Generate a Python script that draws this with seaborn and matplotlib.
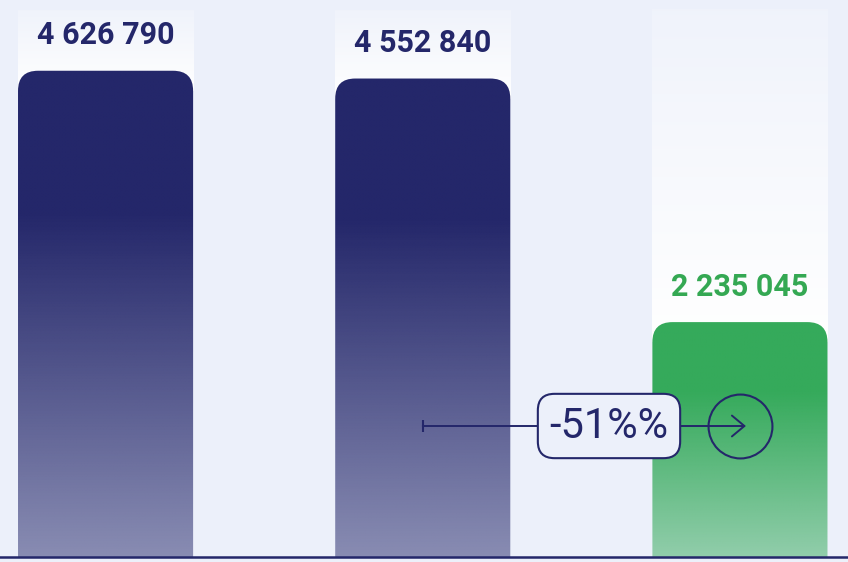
import numpy as np
import matplotlib.pyplot as plt
import seaborn as sns
from matplotlib.patches import FancyBboxPatch
from matplotlib.colors import to_rgb

# data
categories = ['bar 1', 'bar 2', 'bar 3']
values = [4626790, 4552840, 2235045]
value_labels = ['4 626 790', '4 552 840', '2 235 045']
change_label = '-51%%'

BG = '#ECF0FA'
NAVY = '#24276A'
GREEN = '#35AA5B'
bar_colors = [NAVY, NAVY, GREEN]
label_colors = [NAVY, NAVY, '#34A853']

W, H = 848, 562
BAR_W = 0.552
XLIM = (-105.5 / 317, 2 + 108 / 317)
YTOP = 5.3e6

sns.set_style('white')
plt.rcParams['font.family'] = ['Roboto', 'DejaVu Sans']

fig = plt.figure(figsize=(W / 100, H / 100), dpi=100, facecolor=BG)
ax = fig.add_axes([0, 5 / H, 1, 557 / H])
ax.set_facecolor(BG)

sns.barplot(x=categories, y=values, width=BAR_W, ax=ax)
ax.set_xlim(*XLIM)
ax.set_ylim(0, YTOP)

# pixel sizes in data units
px_x = (XLIM[1] - XLIM[0]) / W
px_y = YTOP / 557
rx, ry = 20 * px_x, 20 * px_y
col_top = YTOP * (557 - 10) / 557

for i, patch in enumerate(ax.patches):
    x0, w, h = patch.get_x(), patch.get_width(), patch.get_height()
    patch.set_visible(False)

    # pale column behind each bar
    col = np.ones((256, 1, 4))
    col[..., 3] = np.linspace(1, 0.2, 256)[:, None]
    ax.imshow(col, extent=[x0, x0 + w, h - ry, col_top], origin='lower',
              aspect='auto', zorder=1, interpolation='bilinear')

    # bar with rounded top and fading bottom
    box = FancyBboxPatch((x0, -ry), w, h + ry,
                         boxstyle=f'round,pad=0,rounding_size={rx}',
                         mutation_aspect=ry / rx, facecolor='none',
                         edgecolor='none', transform=ax.transData)
    ax.add_patch(box)
    g = np.zeros((256, 1, 4))
    g[..., :3] = to_rgb(bar_colors[i])
    t = np.linspace(0, 1, 256)
    g[..., 3] = np.where(t > 0.7, 1.0, 0.5 + 0.5 * t / 0.7)[:, None]
    im = ax.imshow(g, extent=[x0, x0 + w, 0, h], origin='lower',
                   aspect='auto', zorder=2, interpolation='bilinear')
    im.set_clip_path(box)

    ax.annotate(value_labels[i], (x0 + w / 2, h), xytext=(0, 19),
                textcoords='offset points', ha='center', va='baseline',
                fontsize=22, fontweight='bold', color=label_colors[i], zorder=4)

ax.set_xlim(*XLIM)
ax.set_ylim(0, YTOP)

# change annotation between bar 2 and bar 3
ay = YTOP * (557 - 426) / 557
ax.annotate('', xy=(2 + 6 * px_x, ay), xytext=(1, ay),
            arrowprops=dict(arrowstyle='->,head_length=0.9,head_width=0.75',
                            color=NAVY, lw=1.4, shrinkA=0, shrinkB=0),
            zorder=5)
ax.plot([1], [ay], marker='|', ms=8, mew=1.5, color=NAVY, zorder=5)
ax.plot([2], [ay], marker='o', ms=46, mfc='none', mec=NAVY, mew=1.5, zorder=5)
ax.text(XLIM[0] + 609 * px_x, ay, change_label, ha='center', va='center',
        fontsize=30, color=NAVY, zorder=6,
        bbox=dict(boxstyle='round,pad=0.28,rounding_size=0.4', fc=BG,
                  ec=NAVY, lw=1.5))

ax.set_xticks([i + BAR_W / 2 for i in range(len(categories))])
ax.set_xticklabels([])
ax.set_yticks([])
ax.set_xlabel('')
ax.set_ylabel('')
ax.tick_params(axis='x', length=5, width=1.2, color=NAVY, direction='out')
for s in ['top', 'left', 'right']:
    ax.spines[s].set_visible(False)
ax.spines['bottom'].set_color(NAVY)
ax.spines['bottom'].set_linewidth(1.8)

fig.savefig('out.png', dpi=100, facecolor=BG)
